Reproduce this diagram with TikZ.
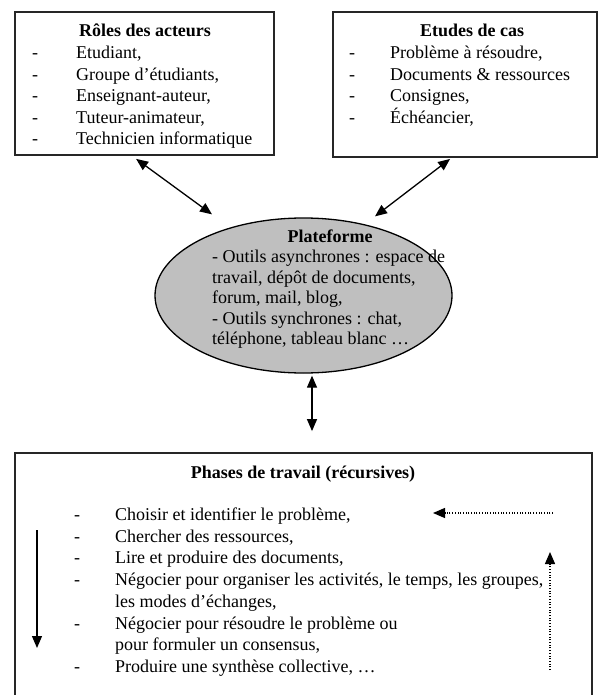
\documentclass[tikz,border=0pt]{standalone}
\usepackage{fontspec}
\setmainfont{Liberation Serif}
\usetikzlibrary{arrows.meta,calc,shapes.geometric}

\begin{document}
\begin{tikzpicture}[x=1pt,y=-1pt,
  frame/.style={draw=black!85,line width=1.8pt,inner sep=0pt,rectangle},
  txt/.style={anchor=base west,inner sep=0pt,font=\fontsize{18}{21}\selectfont},
  ttl/.style={anchor=base,inner sep=0pt,font=\fontsize{18}{21}\selectfont\bfseries},
  dsh/.style={anchor=base,inner sep=0pt,font=\fontsize{18}{21}\selectfont},
  tip/.tip={Triangle[length=12pt,width=10pt]},
  link/.style={line width=1.3pt,tip-tip},
  flow/.style={line width=1.3pt,-tip},
  loopback/.style={line width=1.3pt,dash pattern=on 1pt off 1.7pt,-tip}]

\useasboundingbox (0,0) rectangle (598,695);
\clip (0,0) rectangle (598,695);

% --- frames -------------------------------------------------------------
\node[frame,minimum width=259pt,minimum height=143pt] (roles) at (144.5,83.5) {};
\node[frame,minimum width=264pt,minimum height=145pt] (cases) at (465,84.5) {};
\node[ellipse,draw=black,line width=1.3pt,fill=black!25,inner sep=0pt,
      minimum width=297pt,minimum height=155pt] (plat) at (303.5,295.5) {};
\node[frame,minimum width=577pt,minimum height=260pt] (phases) at (303.5,583) {};

% --- roles of the actors ------------------------------------------------
\node[ttl] (rolesT) at (145,37) {Rôles des acteurs};
\foreach \t [count=\i] in {Etudiant,{Groupe d’étudiants},Enseignant-auteur,
                           Tuteur-animateur,Technicien informatique}{
  \node[dsh] (rd\i) at (35,37+21.6*\i) {-};
  \node[txt] (r\i) at (76,37+21.6*\i) {\t\ifnum\i<5 ,\fi};
}

% --- case studies -------------------------------------------------------
\node[ttl] (casesT) at (472,37) {Etudes de cas};
\node[dsh] (cd1) at (352,58.6) {-};
\node[txt] (c1) at (390,58.6) {Problème à résoudre,};
\node[dsh] (cd2) at (352,80.2) {-};
\node[txt] (c2) at (390,80.2) {Documents \& ressources};
\node[dsh] (cd3) at (352,101.8) {-};
\node[txt] (c3) at (390,101.8) {Consignes,};
\node[dsh] (cd4) at (352,123.4) {-};
\node[txt] (c4) at (390,123.4) {Échéancier,};

% --- platform -----------------------------------------------------------
\node[ttl] (platT) at (330,242) {Plateforme};
\node[txt] (p1) at (212,262.5) {- Outils asynchrones : espace de};
\node[txt] (p2) at (212,283) {travail, dépôt de documents,};
\node[txt] (p3) at (212,303.5) {forum, mail, blog,};
\node[txt] (p4) at (212,324) {- Outils synchrones : chat,};
\node[txt] (p5) at (212,344.5) {téléphone, tableau blanc …};

% --- work phases --------------------------------------------------------
\node[ttl] (phasesT) at (303,478) {Phases de travail (récursives)};
\node[dsh] (fd1) at (77,520) {-};
\node[txt] (f1) at (115,520) {Choisir et identifier le problème,};
\node[dsh] (fd2) at (77,542) {-};
\node[txt] (f2) at (115,542) {Chercher des ressources,};
\node[dsh] (fd3) at (77,563) {-};
\node[txt] (f3) at (115,563) {Lire et produire des documents,};
\node[dsh] (fd4) at (77,585) {-};
\node[txt] (f4) at (115,585) {Négocier pour organiser les activités, le temps, les groupes,};
\node[txt] (f4b) at (115,607) {les modes d’échanges,};
\node[dsh] (fd5) at (77,629) {-};
\node[txt] (f5) at (115,629) {Négocier pour résoudre le problème ou};
\node[txt] (f5b) at (115,650) {pour formuler un consensus,};
\node[dsh] (fd6) at (77,672) {-};
\node[txt] (f6) at (115,672) {Produire une synthèse collective, …};

% --- connectors ---------------------------------------------------------
\draw[link] ($(roles.south west)+(122,3)$) -- ($(plat.north)+(-91.5,-3)$);
\draw[link] ($(cases.south west)+(118,1)$) -- ($(plat.north)+(71.5,-1)$);
\draw[link] ($(plat.south)+(8.5,2)$) -- ($(phases.north)+(8.5,-21)$);

% order of the phases and the way back to the start
\coordinate (downTop) at (37,530);
\coordinate (downEnd) at (37,648);
\draw[flow] (downTop) -- (downEnd);
\coordinate (backLow) at (550,670);
\coordinate (backHigh) at (550,552);
\draw[loopback] (backLow) -- (backHigh);
\coordinate (backStart) at (553,513);
\coordinate (backEnd) at (433,513);
\draw[loopback] (backStart) -- (backEnd);
\end{tikzpicture}
\end{document}
